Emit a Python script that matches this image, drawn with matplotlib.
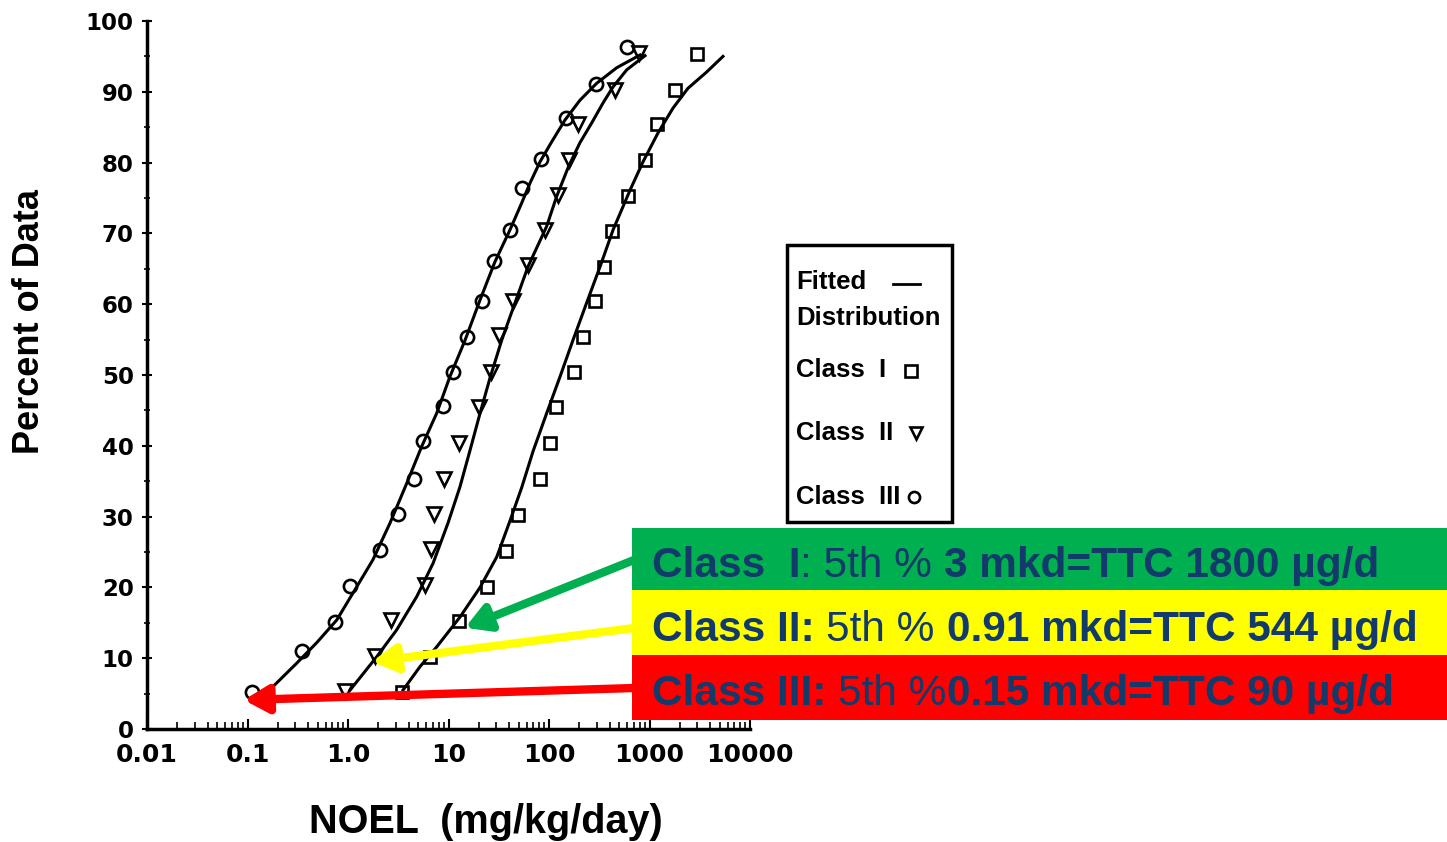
import numpy as np
import matplotlib
matplotlib.use("Agg")
import matplotlib.pyplot as plt
from matplotlib.lines import Line2D
from matplotlib.patches import Rectangle, FancyArrowPatch

# ---------------- data ----------------
class1_noel = [3.44, 6.5, 12.6, 24.2, 37.3, 48.6, 81.3, 102, 117, 177, 220, 284, 349, 428, 611, 902, 1180, 1774, 2972]
class1_pct = [5.2, 10.2, 15.2, 20.1, 25.2, 30.2, 35.3, 40.4, 45.5, 50.4, 55.4, 60.4, 65.3, 70.3, 75.3, 80.4, 85.5, 90.3, 95.3]

class2_noel = [0.93, 1.86, 2.68, 5.8, 6.7, 7.18, 9.0, 12.7, 20.1, 26.5, 31.8, 43.8, 61.8, 91, 123, 158, 194, 454, 787]
class2_pct = [5.4, 10.3, 15.4, 20.4, 25.4, 30.4, 35.3, 40.4, 45.5, 50.4, 55.6, 60.4, 65.5, 70.5, 75.4, 80.4, 85.4, 90.3, 95.5]

class3_noel = [0.111, 0.348, 0.74, 1.05, 2.08, 3.14, 4.54, 5.57, 8.8, 11.1, 15.3, 21.5, 28.4, 40.9, 53.8, 83, 147, 294, 597]
class3_pct = [5.2, 11.0, 15.1, 20.2, 25.3, 30.4, 35.3, 40.7, 45.6, 50.4, 55.4, 60.5, 66.1, 70.5, 76.4, 80.5, 86.3, 91.1, 96.3]

# fitted distributions
fit1_noel = [3.53, 5.20, 7.63, 13.0, 20.6, 30.2, 40.9, 53.5, 69.3, 94.8, 129, 173, 237, 322, 434, 640, 861, 1216, 1714, 2415, 3707, 5385]
fit1_pct = [5.5, 8.8, 11.6, 15.8, 20.0, 24.3, 29.4, 34.1, 39.2, 44.6, 49.8, 54.9, 60.2, 65.3, 70.5, 76.1, 80.1, 84.2, 87.7, 90.5, 92.8, 95.0]

fit2_noel = [1.05, 1.93, 3.05, 4.83, 7.02, 9.89, 13.0, 16.4, 20.6, 25.9, 33.8, 45.9, 61.8, 94.8, 119, 156, 203, 266, 344, 434, 593, 902]
fit2_pct = [5.5, 10.2, 14.0, 18.7, 23.4, 29.1, 34.2, 39.4, 44.6, 49.6, 54.9, 60.2, 65.3, 71.0, 75.2, 79.4, 82.8, 85.6, 88.4, 90.7, 93.1, 95.1]

fit3_noel = [0.155, 0.309, 0.489, 0.773, 1.12, 1.77, 2.62, 3.84, 5.41, 7.63, 10.35, 14.6, 20.6, 29.0, 40.9, 53.5, 64.7, 81.3, 106, 144, 203, 298, 472, 804]
fit3_pct = [5.1, 9.3, 12.2, 15.4, 19.2, 23.9, 29.1, 34.7, 39.9, 44.6, 49.8, 54.9, 60.6, 66.0, 70.5, 74.3, 77.1, 80.1, 82.9, 86.0, 88.8, 91.2, 93.4, 95.2]

x_ticks = [0.01, 0.1, 1, 10, 100, 1000, 10000]
x_ticklabels = ["0.01", "0.1", "1.0", "10", "100", "1000", "10000"]
y_ticks = [0, 10, 20, 30, 40, 50, 60, 70, 80, 90, 100]

# arrow targets: 5th percentile NOELs (mg/kg/day, percent)
arrow_targets = {"I": (14.6, 14.3), "II": (1.73, 9.5), "III": (0.092, 4.1)}

# ---------------- figure ----------------
W, H = 1447, 842
fig = plt.figure(figsize=(W / 100, H / 100), dpi=100)
fig.patch.set_facecolor("white")

ax = fig.add_axes([147 / W, 1 - 729 / H, 603 / W, 708 / H])
ax.set_xscale("log")
ax.set_xlim(0.01, 10000)
ax.set_ylim(0, 100)

lw = 2.2
ax.plot(fit1_noel, fit1_pct, color="black", lw=lw, zorder=3)
ax.plot(fit2_noel, fit2_pct, color="black", lw=lw, zorder=3)
ax.plot(fit3_noel, fit3_pct, color="black", lw=lw, zorder=3)

mk = dict(linestyle="none", markerfacecolor="none", markeredgecolor="black",
          markeredgewidth=1.9, zorder=4)
ax.plot(class1_noel, class1_pct, marker="s", markersize=8.5, **mk)
ax.plot(class2_noel, class2_pct, marker="v", markersize=9.5, **mk)
ax.plot(class3_noel, class3_pct, marker="o", markersize=9.5, **mk)

for s in ["top", "right"]:
    ax.spines[s].set_visible(False)
for s in ["left", "bottom"]:
    ax.spines[s].set_linewidth(2.5)

ax.set_xticks(x_ticks)
ax.set_xticklabels(x_ticklabels)
ax.set_yticks(y_ticks)
ax.set_yticks([5, 15, 25, 35, 45, 55, 65, 75, 85, 95], minor=True)
ax.tick_params(axis="x", which="major", direction="in", length=7, width=1.5, pad=10)
ax.tick_params(axis="x", which="minor", direction="in", length=5, width=1.2)
ax.tick_params(axis="y", which="major", direction="inout", length=7, width=1.5, pad=6)
ax.tick_params(axis="y", which="minor", direction="inout", length=5, width=1.2)
for lab in ax.get_xticklabels():
    lab.set_fontfamily("DejaVu Sans")
    lab.set_fontweight("bold")
    lab.set_fontsize(18)
for lab in ax.get_yticklabels():
    lab.set_fontfamily("DejaVu Sans")
    lab.set_fontweight("bold")
    lab.set_fontsize(16.5)

fig.text(30 / W, 1 - 322 / H, "Percent of Data", rotation=90, ha="center", va="center",
         fontsize=26, fontweight="bold", family="Liberation Sans")
fig.text(486 / W, 1 - 822 / H, "NOEL  (mg/kg/day)", ha="center", va="center",
         fontsize=28.5, fontweight="bold", family="Liberation Sans")

# ---------------- legend box ----------------
fig.patches.append(Rectangle((787 / W, 1 - 522 / H), 165 / W, 277 / H,
                             transform=fig.transFigure, fill=False, lw=2.5,
                             edgecolor="black", zorder=5))
lkw = dict(fontsize=18.5, fontweight="bold", family="Liberation Sans", va="center", ha="left")
fig.text(796 / W, 1 - 282 / H, "Fitted", **lkw)
fig.lines.append(Line2D([893 / W, 920 / W], [1 - 284 / H, 1 - 284 / H],
                        transform=fig.transFigure, color="black", lw=2))
fig.text(796 / W, 1 - 318 / H, "Distribution", **lkw)
fig.text(796 / W, 1 - 370 / H, "Class  I", **lkw)
fig.text(796 / W, 1 - 433 / H, "Class  II", **lkw)
fig.text(796 / W, 1 - 497 / H, "Class  III", **lkw)
for xm, ym, m in [(911, 371, "s"), (916, 433, "v"), (914, 497, "o")]:
    fig.lines.append(Line2D([xm / W], [1 - ym / H], transform=fig.transFigure, marker=m,
                            markersize=8, markerfacecolor="none", markeredgecolor="black",
                            markeredgewidth=1.9, linestyle="none"))

# ---------------- coloured annotation bars ----------------
bars = [
    ("#00B050", 528, 590, 577, "I", [("Class  I", "bold"), (": 5th % ", "normal"), ("3 mkd=TTC 1800 µg/d", "bold")]),
    ("#FFFF00", 590, 655, 641, "II", [("Class II: ", "bold"), ("5th % ", "normal"), ("0.91 mkd=TTC 544 µg/d", "bold")]),
    ("#FF0000", 655, 720, 705, "III", [("Class III: ", "bold"), ("5th %", "normal"), ("0.15 mkd=TTC 90 µg/d", "bold")]),
]
tail_ys = {"I": 560, "II": 628, "III": 688}
txt_color = "#123A6B"
renderer = fig.canvas.get_renderer()
to_fig = fig.transFigure.inverted()
for color, y0, y1, base, key, parts in bars:
    fig.patches.append(Rectangle((632 / W, 1 - y1 / H), (W - 632) / W, (y1 - y0) / H,
                                 transform=fig.transFigure, facecolor=color,
                                 edgecolor="none", zorder=6))
    x = 652.0
    for s, wgt in parts:
        t = fig.text(x / W, 1 - base / H, s, ha="left", va="baseline", fontsize=30.5,
                     fontweight=wgt, family="Liberation Sans", color=txt_color, zorder=7)
        bb = t.get_window_extent(renderer=renderer)
        x += bb.width
    tx, ty = arrow_targets[key]
    tip = to_fig.transform(ax.transData.transform((tx, ty)))
    arr = FancyArrowPatch(posA=(634 / W, 1 - tail_ys[key] / H), posB=tuple(tip),
                          transform=fig.transFigure,
                          arrowstyle="-|>,head_length=14,head_width=8",
                          lw=6, color=color, shrinkA=0, shrinkB=0,
                          mutation_scale=1, zorder=8)
    fig.patches.append(arr)

fig.savefig("out.png", dpi=100)
